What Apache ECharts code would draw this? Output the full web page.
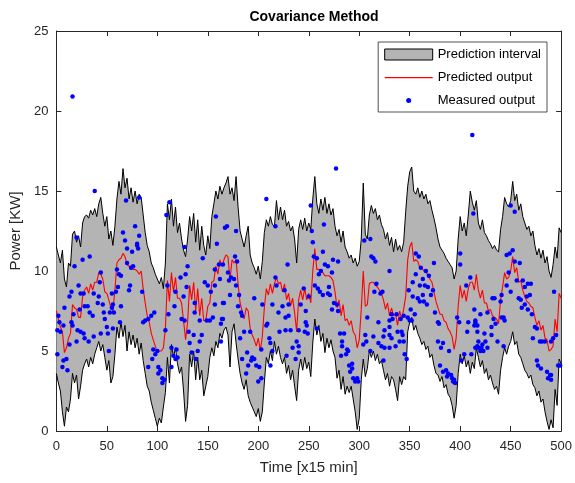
<!DOCTYPE html>
<html><head><meta charset="utf-8">
<script src="https://cdn.jsdelivr.net/npm/echarts@6/dist/echarts.min.js"></script>
<style>html,body{margin:0;padding:0;background:#fff}#c{width:575px;height:483px}</style>
</head><body><div id="c"></div>
<script>
// time axis ticks
const xTicks = [0,50,100,150,200,250,300,350,400,450,500];
const yTicks = [0,5,10,15,20,25];
const sampleStep = 2; // samples every 2 time steps
// upper bound of prediction interval
const upper = [11.5,11,10.5,11.3,9.5,9,10.5,10.3,12.3,12.5, 11.8,12.2,11.5,13,13.4,13.5,13.3,13.8,13.5,13.9,
13.4,14.2,14.6,13.6,12.8,13.4,12,12.5,11.6,12.8, 14.5,15.6,14.8,16.4,15.2,15.8,14.5,15.2,14.3,15,
14.2,14.8,14.6,13.5,12.4,11.6,11.2,10.5,10.2,9.8, 9.5,9.2,9.6,8.9,10.5,14.2,13.2,14.5,12.8,14,
12.4,13,12,11.3,10.9,12,13.4,12.5,13.6,11.8, 13.2,11.3,12.8,11.6,11,12.2,11.4,13.4,14.2,15,
14.5,15.3,14.8,15.2,15.5,15.9,14.8,15.2,14.4,15.9, 14,12.5,12,11.5,12.2,12.8,11,10.5,10.2,9.8,
10.3,9.5,10.6,12.4,13.2,12.8,13.4,12.9,12.8,14.4, 13.2,14,13.2,13.8,12.8,13.1,12.5,12.8,12,10.5,
12.6,13.2,12.6,13.3,12.5,13,12.6,14.5,15.9,14.2, 13.6,14.5,13.8,14.6,13.6,14.2,13.5,13.9,12.8,12.2,
12.6,11.8,12.5,11.5,11.2,10.8,11,10.5,10.8,10.3, 10.6,12,15.5,12.3,12,13.5,14.1,13.6,13.9,13.2,
13.5,12.9,12.6,12,12.4,11.6,12.1,11.2,12,11.3, 11.6,11.2,11.8,13.7,15.3,16.2,16.5,15,14.8,15.2,
14.6,15,14.5,14.8,14.2,14.4,13.8,13.3,12.7,12, 11.5,11.3,11.1,10.8,10.6,10.4,10.2,9.5,10,12,
13.4,12.5,13,12.2,13.5,15,14.3,13.8,14.4,13, 12.6,13.2,12.4,12.2,11.9,11.7,11.4,11.6,11.3,11.2,
12.6,13.4,14.6,14.2,14,14.4,15.6,14.4,14.8,13.8, 14.2,13.4,13,12.6,12.8,12.2,12.5,11.6,11,11.4,
10.8,11.3,10.5,10.9,10,9.6,10.4,11.5,10.8,12.7, 12.4];
// lower bound of prediction interval
const lower = [3.6,3,2.5,1.2,0.3,1.5,1.2,2,3.6,3, 3.5,2,2.8,3.8,4.2,4.5,4,4.6,4.2,4.8,
5.2,5.6,5,5.4,4.6,3.8,4.4,3,3.4,4.8, 6.5,5.8,6.8,5.9,6.6,5,6.2,5.4,6,5.2,
5.8,4.8,5.5,4.4,3.6,2.8,2.5,1.8,1.3,0.8, 0.3,0.8,0.5,1.5,2.4,4.6,3,5.4,4.6,5.2,
4.2,3.6,4,2.5,0.6,1.6,4.8,4,5,3.2, 4.6,3.2,3.8,2.2,2.8,3.4,4.6,5.2,4.7,5.6,
5.2,6.1,5.8,6.3,6.5,6,4,6.2,6.7,5.5, 4.5,3.6,3,2.6,3.2,2.2,1.8,1.5,1.2,0.9,
1.4,0.6,1.2,3,4.6,4.2,5,4.4,5.6,4.8, 5.3,4.6,4.2,4.6,3.6,4.1,3.2,3.8,2.8,1.9,
3.8,4.5,3.8,4.6,3.9,4.3,3.4,5.5,7,6, 6.6,5.6,6.1,4.9,5.8,5.2,5.7,5,4.6,3.3,
3.8,2.6,3.4,2.3,2.8,2.4,2.8,2,1.2,0.1, 0.8,3.2,4.5,3.4,3.9,5,4.6,5,4.4,4.8,
4.2,4.4,3.8,3.2,3.6,2.8,3.4,3.2,2.6,1.9, 3.4,2.9,3.4,3.2,6.2,6.8,7.1,6.3,6.6,6.1,
5.8,5.4,5.6,5.1,5.3,4.6,4.8,4.1,3.6,3.5, 3.1,3.4,2.7,2.9,2.3,2.1,1.6,0.8,1.6,3.6,
4.8,4.2,4.7,4,4.4,3.6,4.3,3.9,5.2,4.6, 4,4.4,3.6,3.9,3.2,3.5,3,2.6,2.8,2.3,
3.8,4.6,5.2,4.8,5.3,5.6,6.2,5.4,5.6,4.8, 4.6,4.2,3.8,3.6,3.3,3.5,2.9,2.7,2.2,2.5,
1.8,2,1.2,0.6,0.1,0.7,0.2,2.6,1.6,4.5, 4.2];
// predicted output
const predicted = [7.5,7,6.5,6.2,4.9,5.2,5.8,6.1,7.9,7.7, 7.6,7.1,7.1,8.4,8.8,9,8.6,9.2,8.8,9.3,
9.3,9.9,9.8,9.5,8.7,8.6,8.2,7.7,7.5,8.8, 10.5,10.7,10.8,11.1,10.9,10.4,10.3,10.3,10.1,10.1,
10,9.8,10,8.9,8,7.2,6.8,6.1,5.7,5.3, 4.9,5,5,5.2,6.4,9.4,8.1,9.9,8.7,9.6,
8.3,8.3,8,6.9,5.7,6.8,9.1,8.2,9.3,7.5, 8.9,7.2,8.3,6.9,6.9,7.8,8,9.3,9.4,10.3,
9.8,10.7,10.3,10.7,11,10.9,9.4,10.7,10.5,10.7, 9.2,8,7.5,7,7.7,7.5,6.4,6,5.7,5.3,
5.8,5,5.9,7.7,8.9,8.5,9.2,8.6,9.2,9.6, 9.2,9.3,8.7,9.2,8.2,8.6,7.8,8.3,7.4,6.2,
8.2,8.8,8.2,8.9,8.2,8.6,8,10,11.4,10.1, 10.1,10,9.9,9.7,9.7,9.7,9.6,9.4,8.7,7.7,
8.2,7.2,7.9,6.9,7,6.6,6.9,6.2,6,5.2, 5.7,7.6,10,7.8,7.9,9.2,9.3,9.3,9.1,9,
8.8,8.6,8.2,7.6,8,7.2,7.7,7.2,7.3,6.6, 7.5,7,7.6,8.4,10.7,11.5,11.8,10.6,10.7,10.6,
10.2,10.2,10,10,9.7,9.5,9.3,8.7,8.1,7.7, 7.3,7.3,6.9,6.8,6.4,6.2,5.9,5.1,5.8,7.8,
9.1,8.3,8.8,8.1,8.9,9.3,9.3,8.8,9.8,8.8, 8.3,8.8,8,8,7.5,7.6,7.2,7.1,7,6.7,
8.2,9,9.9,9.5,9.6,10,10.9,9.9,10.2,9.3, 9.4,8.8,8.4,8.1,8,7.8,7.7,7.1,6.6,6.9,
6.3,6.6,5.8,5.7,5,5.1,5.3,7,6.2,8.6, 8.3];
// measured output [time, power]
const measured = [
[16,20.9],[38,15],[69,14.4],[82,14.6],[20,12.1],[26,10.7],[33,10.9],[18,10.3],[66,12.4],[68,11.9],[78,12.8],[70,11.4],[75,11.2],[80,11.7],[81,11.4],[70,10.5],[76,10.3],[74,10.2],[60,10.1],[62,9.8],[64,9.7],[44,9.9],[43,9.3],[61,9],[73,9.1],[22,9.1],[15,8.7],[13,8.4],[24,8.6],[37,8.6],[42,8.4],[55,8.6],[72,8.8],
[27,8.6],[59,8.7],[8,7.7],[17,7.3],[15,6.8],[23,7.6],[28,7.8],[31,7.8],[33,7.4],[36,7.2],[41,8],[46,7.9],[47,7.4],[48,7],[53,7.4],[55,7.7],[57,7.4],[64,7.8],[56,7.9],[2,7.2],[3,6.8],[1,6.3],[4,6.2],[7,6.6],[16,6.6],[21,6.3],[24,6.2],[27,6.1],[20,5.6],[28,5.8],[32,5.6],[37,5.9],[44,6.1],[51,6.1],[50,6.5],[56,6.4],[63,6.8],[13,5.4],[1,4.8],[7,4.4],[10,4.5],[6,4],[11,3.8],[52,5],
[112,14.3],[109,13.5],[82,12.2],[80,11.6],[127,11.5],[158,13.4],[159,11.7],[145,10.8],[130,10.3],[161,10.4],[165,10.4],[157,10.1],[128,9.8],[123,9.6],[110,9.1],[129,9],[118,8.7],[147,9.3],[150,9.1],[157,9.1],[153,8.7],[85,8.7],[126,8.4],
[157,7.9],[165,8],[117,7.8],[111,7.3],[137,8],[137,7.4],[124,7],[127,6.9],[142,6.9],[149,6.9],[152,6.9],[155,7.1],[164,7],[163,6.7],[86,6.8],[88,6.9],[91,7],[94,7.2],[97,7.4],[108,6.3],[131,6.2],[136,6],[144,6],[142,5.6],[132,5.5],[163,5.6],[96,5.1],[100,5],[98,4.8],[114,5.2],[119,5.1],[134,4.9],[140,5],[95,4.5],[116,4.7],[118,4.5],[120,4.6],[114,4],[138,4.5],[91,4],[101,4],[103,3.8],[101,3.6],[105,3.3],[105,3],[107,3.2],
[208,14.5],[217,12.8],[169,12.8],[167,12.7],[178,12.5],[229,10.4],[162,9.5],[177,10.9],[179,10.6],[170,9.9],[173,9.6],[171,9.4],[176,9.5],[178,9.1],[217,9.6],[218,9.1],[226,8.8],[245,8.9],[172,8.5],[181,8.5],
[196,8.3],[166,8],[180,7.8],[204,7.9],[214,7.9],[224,7.8],[230,7.9],[242,7.9],[183,7.4],[184,7.2],[220,7.4],[230,7.2],[227,7.1],[165,7],[208,6.6],[209,6.7],[221,6.2],[227,6.3],[232,6.3],[240,6.3],[246,6.2],[186,6.2],[192,6.2],[182,5.8],[211,5.8],[212,5.5],[238,5.6],[240,5.3],[234,5.2],[240,4.9],[189,4.9],[203,5.1],[214,5],[228,4.7],[237,4.5],[194,4.6],[193,4.4],[196,4.5],[190,4.1],[198,4.1],[201,4],[184,4.5],[212,4.1],[188,3.6],[200,3.1],[203,3.3],
[277,16.4],[252,14.1],[265,12.9],[253,12.5],[254,11.8],[305,11.9],[311,12],[255,10.9],[264,11.2],[274,10.7],[279,10.6],[258,10.8],[312,10.9],[314,10.8],[316,10.6],[330,10],[266,10.4],[269,10.3],[262,10],[260,9.8],[273,9.9],[317,9.2],[256,9.1],[259,8.9],[261,8.7],[264,8.5],[270,9],[271,8.5],[315,8.7],[321,8.6],[323,8.7],
[250,8.4],[269,8.6],[275,8],[278,7.9],[279,7.5],[273,7.6],[247,7.5],[308,7.1],[319,6.8],[330,6.9],[325,6.3],[247,6.8],[248,6.6],[249,6.1],[258,6.4],[281,6.1],[285,6.1],[283,5.6],[306,6],[307,5.6],[314,5.9],[324,5.9],[330,6],[304,5.4],[311,5],[319,5.5],[322,5.3],[325,5.2],[283,5.3],[288,5.1],[289,5],[287,4.8],[282,4.7],[324,4.4],[293,4.2],[290,4.1],[293,3.9],[291,3.7],[294,3.3],[297,3.2],[298,3.3],[296,3.1],[299,3.1],
[413,13.6],[412,18.5],[400,11.1],[400,10.4],[410,9.6],[406,9.1],[356,11.1],[359,10.9],[374,10.5],[361,10.2],[366,10],[356,9.8],[369,9.7],[363,9.5],[353,9.3],[360,9.1],[365,9.1],[368,9],[373,8.8],[349,8.8],[371,8.5],[363,8.5],[353,8.4],
[351,7.6],[355,7.3],[350,6.9],[352,6.9],[348,7.1],[358,8.3],[360,8.1],[364,8.1],[367,7.9],[332,7.3],[337,7.3],[333,7],[341,7],[344,7.2],[330,6.5],[338,6.2],[342,6.2],[343,6],[332,5.8],[330,5.2],[336,5.3],[340,5.6],[344,5.6],[345,4.8],[347,4.5],[375,7.4],[378,6.8],[379,6.7],[397,7.1],[399,6.8],[408,6.8],[415,6.9],[414,6.6],[407,6.2],[378,5.6],[383,5.5],[381,5.2],[389,5],[411,4.8],[404,4.8],[401,4.4],[380,4.1],[386,3.8],[383,3.7],[388,3.6],[387,3.4],[391,3.5],[392,3.3],[394,3.2],[393,3.1],[395,3],
[450,14.1],[454,13.7],[446,11],[449,11.1],[452,11.3],[454,10.6],[459,10.5],[448,9.9],[456,9.4],[462,9.4],[467,9.2],[470,9.2],[446,9.1],[450,8.7],[464,9],[493,8.7],[441,8.5],[469,8.5],
[432,8.3],[434,8.3],[440,8.1],[458,8.3],[460,8.2],[464,7.9],[466,8.4],[461,7.7],[467,7.6],[414,7.6],[420,7.3],[427,7.4],[441,7.1],[444,6.9],[443,7.1],[471,7.3],[433,7],[435,6.7],[431,6.5],[415,6.8],[417,6.6],[417,6.2],[424,6.1],[431,6],[437,5.6],[418,5.6],[425,5.6],[474,6.5],[476,6.4],[472,5.8],[479,5.6],[481,5.6],[484,5.6],[490,5.6],[492,5.8],[495,6],[497,4.1],[499,4.1],[415,5.2],[418,5.2],[421,5.2],[423,5],[427,5.2],[422,5.4],[417,5.3],[420,5],[443,5.3],[476,4.4],[477,4.1],[480,3.9],[486,3.7],[489,3.5],[487,3.3],[490,3.2],[490,3.5]
];

const times = upper.map((_, i) => i * sampleStep);
const pairs = arr => arr.map((v, i) => [times[i], v]);

const ink = '#262626';
const font = 'Liberation Sans, Arial, Helvetica, sans-serif';
const baseAxis = {
  type: 'value',
  axisLine: { show: true, onZero: false, lineStyle: { color: ink, width: 1 } },
  axisTick: { show: true, inside: true, length: 5, lineStyle: { color: ink, width: 1 } },
  splitLine: { show: false },
  axisLabel: { color: ink, fontSize: 13, fontFamily: font }
};
const xBase = Object.assign({}, baseAxis, { min: xTicks[0], max: xTicks[xTicks.length - 1], interval: xTicks[1] - xTicks[0] });
const yBase = Object.assign({}, baseAxis, { min: yTicks[0], max: yTicks[yTicks.length - 1], interval: yTicks[1] - yTicks[0] });

const chart = echarts.init(document.getElementById('c'), null, { renderer: 'canvas' });
chart.setOption({
  animation: false,
  backgroundColor: '#fff',
  textStyle: { fontFamily: font },
  title: {
    text: 'Covariance Method', left: 309, top: 5, textAlign: 'center',
    textStyle: { fontSize: 14, fontWeight: 'bold', color: '#000', fontFamily: font }
  },
  grid: { left: 55, right: 12, top: 31, bottom: 52 },
  legend: {
    orient: 'vertical', right: 28, top: 42, itemWidth: 48, itemHeight: 11, itemGap: 10,
    padding: [6, 6, 5, 6], backgroundColor: '#fff', borderColor: ink, borderWidth: 0.8,
    selectedMode: false, textStyle: { fontSize: 13, color: '#000', fontFamily: font },
    data: [
      { name: 'Prediction interval', icon: 'rect', itemStyle: { color: '#b4b4b4', borderColor: '#000', borderWidth: 1 } },
      { name: 'Predicted output', icon: 'path://M0,0M48,11M0,5L48,5L48,6.2L0,6.2Z', itemStyle: { color: '#ff0000' } },
      { name: 'Measured output', icon: 'path://M0,0M48,11M21.5,5.5a2.5,2.5 0 1,0 5,0a2.5,2.5 0 1,0 -5,0z', itemStyle: { color: '#0000ff' } }
    ]
  },
  xAxis: [
    Object.assign({}, xBase, {
      position: 'bottom', name: 'Time [x15 min]', nameLocation: 'middle', nameGap: 29,
      nameTextStyle: { fontSize: 15, color: ink, fontFamily: font },
      axisLabel: Object.assign({}, baseAxis.axisLabel, { margin: 9 })
    }),
    Object.assign({}, xBase, { position: 'top', axisLabel: { show: false } })
  ],
  yAxis: [
    Object.assign({}, yBase, {
      position: 'left', name: 'Power [KW]', nameLocation: 'middle', nameGap: 29,
      nameTextStyle: { fontSize: 15, color: ink, fontFamily: font },
      axisLabel: Object.assign({}, baseAxis.axisLabel, { margin: 8 })
    }),
    Object.assign({}, yBase, { position: 'right', axisLabel: { show: false } })
  ],
  series: [
    {
      type: 'custom', name: 'Prediction interval', data: [[0, 0]], silent: true, z: 1,
      itemStyle: { color: '#b4b4b4', borderColor: '#000', borderWidth: 1 },
      renderItem: function (params, api) {
        const pts = [];
        for (let i = 0; i < times.length; i++) pts.push(api.coord([times[i], upper[i]]));
        for (let i = times.length - 1; i >= 0; i--) pts.push(api.coord([times[i], lower[i]]));
        return { type: 'polygon', shape: { points: pts }, style: { fill: '#b4b4b4', stroke: null } };
      }
    },
    { type: 'line', name: 'Upper bound', data: pairs(upper), symbol: 'none', z: 2, silent: true,
      lineStyle: { color: '#000', width: 1 } },
    { type: 'line', name: 'Lower bound', data: pairs(lower), symbol: 'none', z: 2, silent: true,
      lineStyle: { color: '#000', width: 1 } },
    { type: 'line', name: 'Predicted output', data: pairs(predicted), symbol: 'none', z: 3, silent: true,
      lineStyle: { color: '#ff0000', width: 1.1 }, itemStyle: { color: '#ff0000' } },
    { type: 'scatter', name: 'Measured output', data: measured, symbol: 'circle', symbolSize: 4.5, z: 4, silent: true,
      itemStyle: { color: '#0000ff', opacity: 1 } }
  ]
});
</script>
</body></html>
